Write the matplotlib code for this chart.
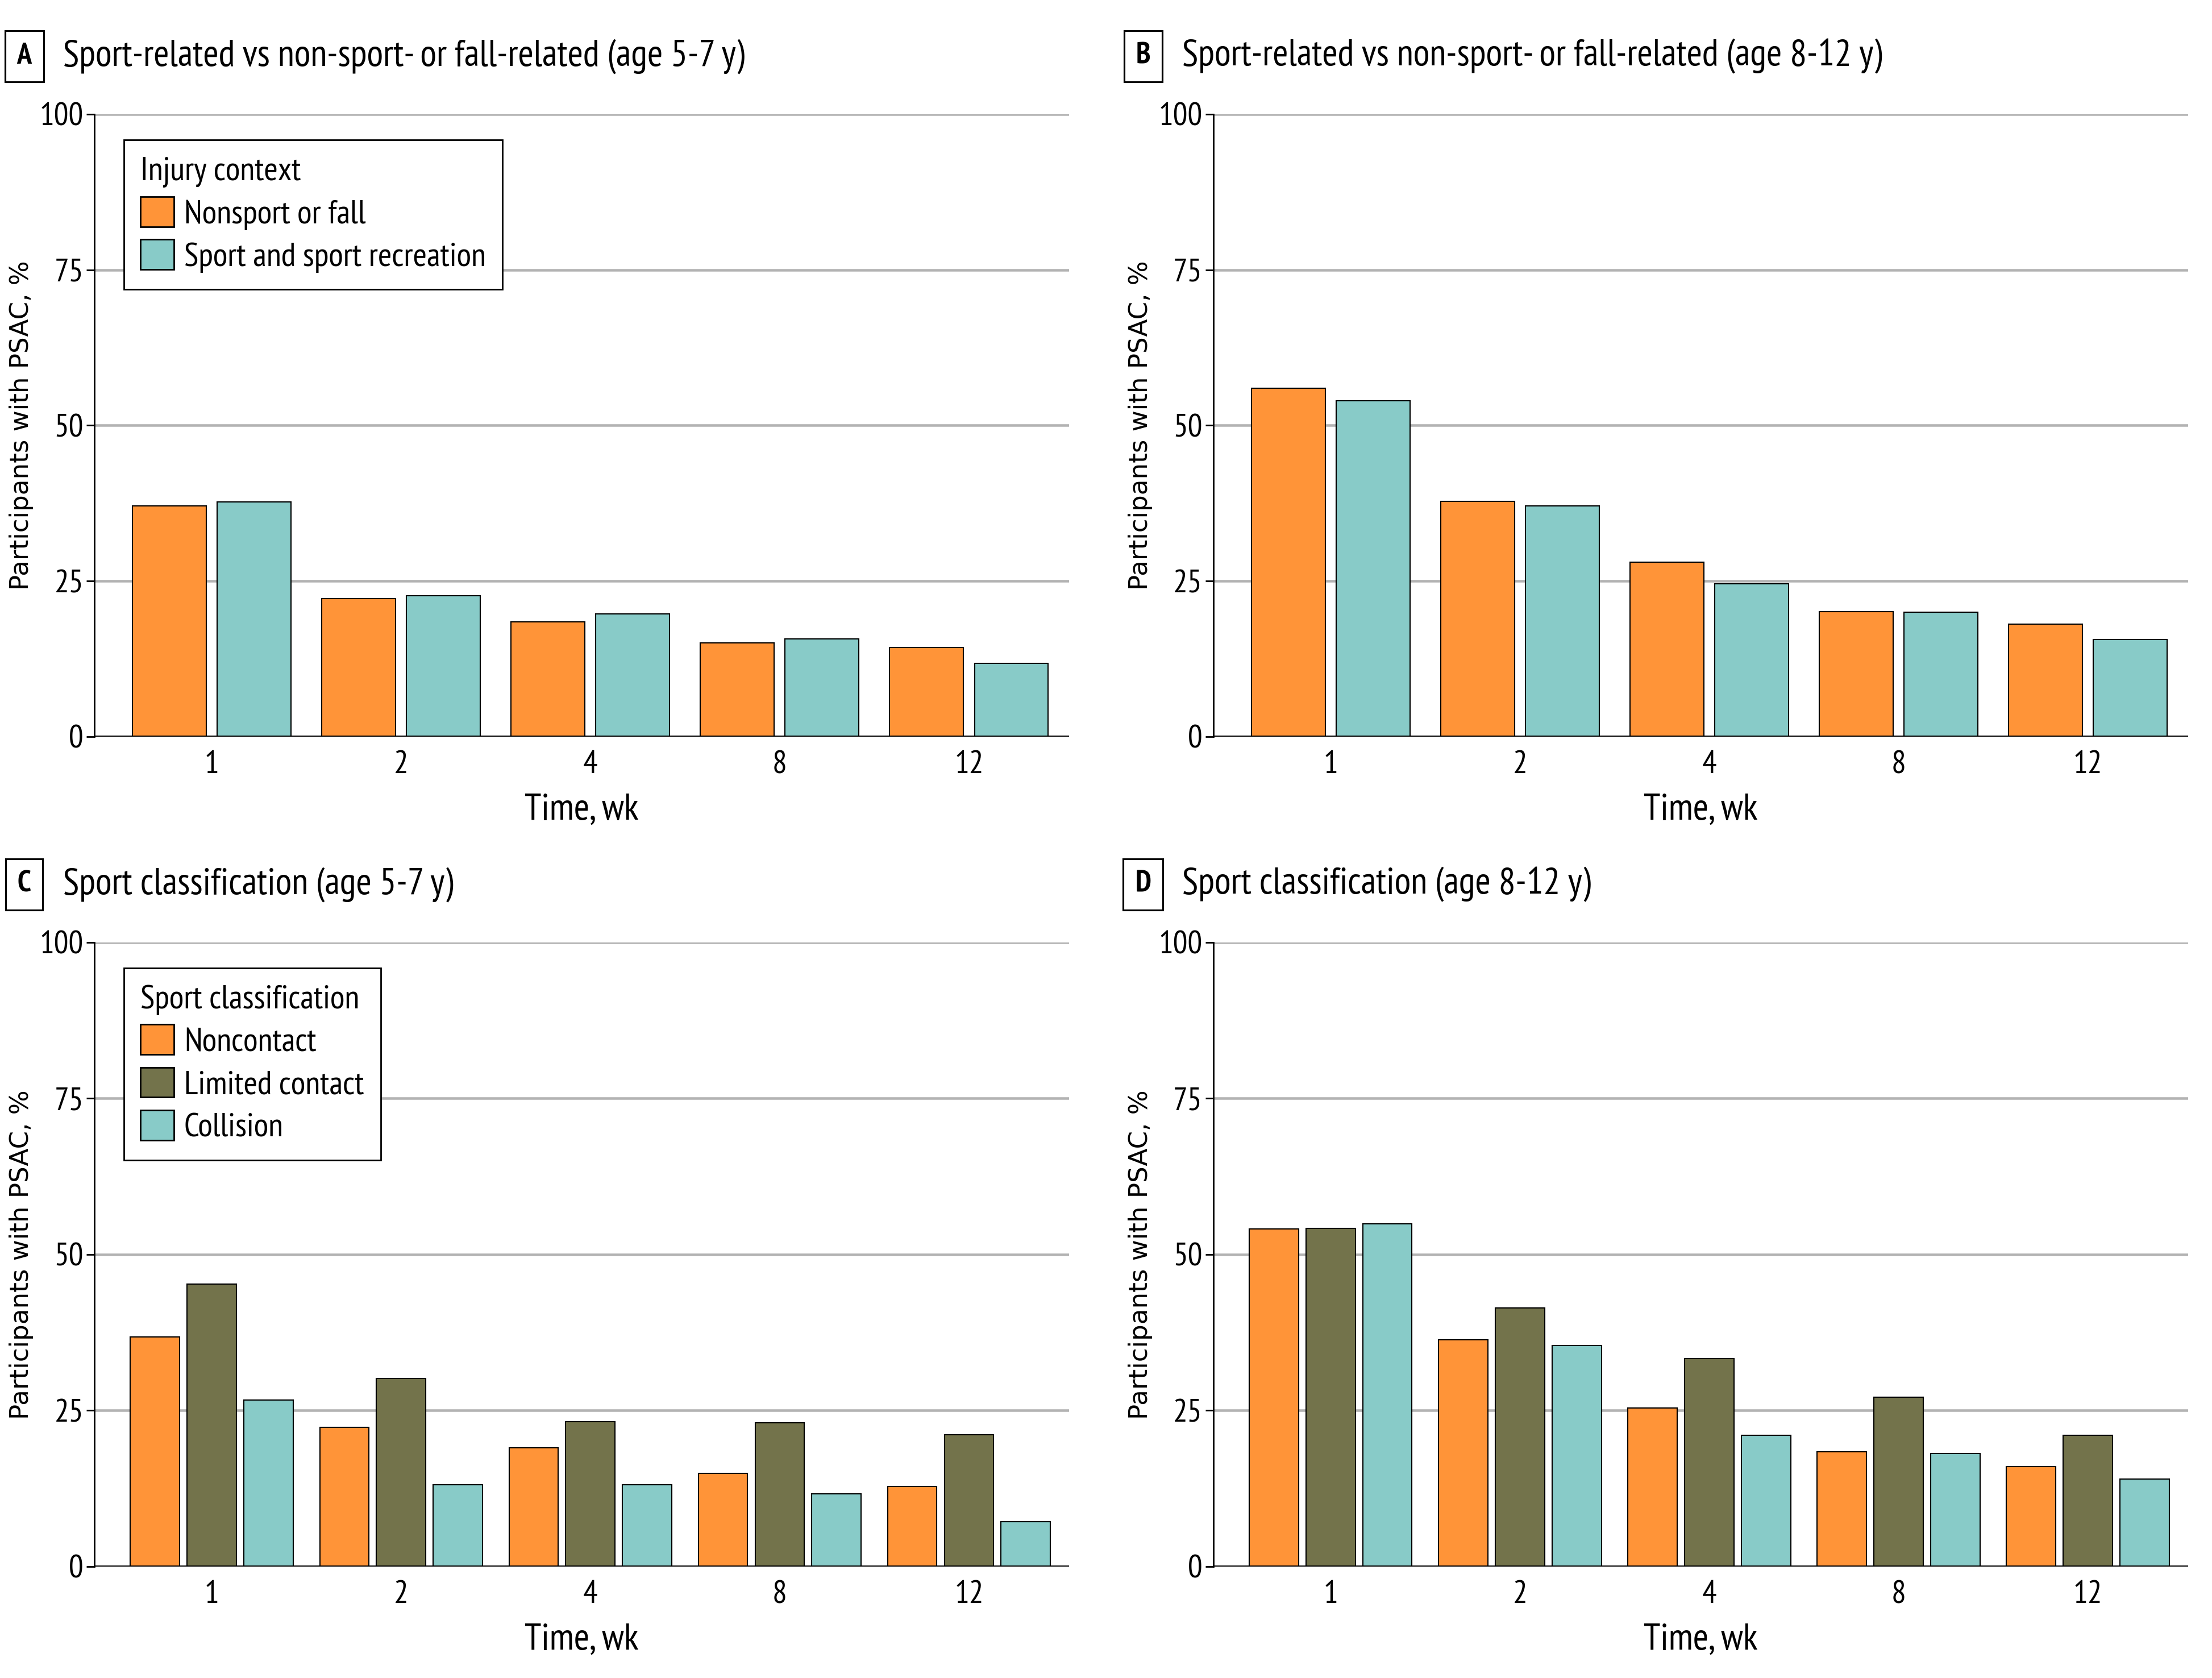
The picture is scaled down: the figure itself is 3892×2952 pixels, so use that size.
import numpy as np
import matplotlib.pyplot as plt
from matplotlib.patches import Patch

weeks = ['1', '2', '4', '8', '12']

# panel A / B: injury context
ctx_labels = ['Nonsport or fall', 'Sport and sport recreation']
a_nonsport = [37.1, 22.2, 18.4, 15.1, 14.3]
a_sport = [37.7, 22.6, 19.7, 15.7, 11.8]
b_nonsport = [56.0, 37.8, 28.0, 20.1, 18.1]
b_sport = [54.0, 37.1, 24.6, 20.0, 15.6]

# panel C / D: sport classification
cls_labels = ['Noncontact', 'Limited contact', 'Collision']
c_noncontact = [36.8, 22.3, 19.0, 14.9, 12.8]
c_limited = [45.3, 30.1, 23.2, 23.0, 21.1]
c_collision = [26.7, 13.1, 13.1, 11.7, 7.2]
d_noncontact = [54.1, 36.3, 25.4, 18.4, 16.0]
d_limited = [54.2, 41.4, 33.3, 27.1, 21.0]
d_collision = [54.9, 35.4, 21.0, 18.1, 14.0]

orange = '#FF9438'
olive = '#73734B'
teal = '#88CBC8'
grid_c = '#B3B3B3'

plt.rcParams['font.family'] = ['PT Sans Narrow', 'DejaVu Sans']
plt.rcParams['font.size'] = 16

fig = plt.figure(figsize=(15.568, 11.808), dpi=250)

W = 0.4407
boxes = {
    'A': [0.0427, 0.561, W, 0.371],
    'B': [0.5485, 0.561, W, 0.371],
    'C': [0.0427, 0.0664, W, 0.372],
    'D': [0.5485, 0.0664, W, 0.372],
}
titles = {
    'A': 'Sport-related vs non-sport- or fall-related (age 5-7 y)',
    'B': 'Sport-related vs non-sport- or fall-related (age 8-12 y)',
    'C': 'Sport classification (age 5-7 y)',
    'D': 'Sport classification (age 8-12 y)',
}
series = {
    'A': [a_nonsport, a_sport],
    'B': [b_nonsport, b_sport],
    'C': [c_noncontact, c_limited, c_collision],
    'D': [d_noncontact, d_limited, d_collision],
}

x = np.arange(len(weeks))

for key, rect in boxes.items():
    ax = fig.add_axes(rect)
    data = series[key]
    if len(data) == 2:
        cols = [orange, teal]
        offs = [-0.224, 0.224]
        bw = 0.39
        labels = ctx_labels
        ltitle = 'Injury context'
    else:
        cols = [orange, olive, teal]
        offs = [-0.30, 0.0, 0.30]
        bw = 0.26
        labels = cls_labels
        ltitle = 'Sport classification'

    for vals, c, o in zip(data, cols, offs):
        ax.bar(x + o, vals, width=bw, color=c, edgecolor='black', linewidth=0.6, zorder=3)

    ax.set_ylim(0, 100)
    ax.set_xlim(-0.62, 4.53)
    ax.set_yticks([0, 25, 50, 75, 100])
    ax.set_xticks(x)
    ax.set_xticklabels(weeks)
    ax.tick_params(axis='x', length=0, pad=7, labelsize=16.5)
    ax.tick_params(axis='y', length=4, width=0.8, pad=1.5, labelsize=16.5)
    for v in [25, 50, 75, 100]:
        ax.axhline(v, color=grid_c, linewidth=1.3, zorder=1)
    ax.axhline(0, color='black', linewidth=1.4, zorder=4)
    for s in ['top', 'right', 'bottom']:
        ax.spines[s].set_visible(False)
    ax.spines['left'].set_linewidth(0.8)
    ax.set_xlabel('Time, wk', fontsize=19, labelpad=7)
    ax.set_ylabel('Participants with PSAC, %', fontsize=13, family='DejaVu Sans', labelpad=3)

    ax.text(-0.072, 1.093, key, transform=ax.transAxes, ha='center', va='center',
            fontsize=15, fontweight='bold',
            bbox=dict(boxstyle='square,pad=0.4', facecolor='white', edgecolor='black', linewidth=0.9))
    ax.text(-0.032, 1.093, titles[key], transform=ax.transAxes, ha='left', va='center', fontsize=19)

    if key in ('A', 'C'):
        handles = [Patch(facecolor=c, edgecolor='black', linewidth=0.8) for c in cols]
        leg = ax.legend(handles, labels, title=ltitle, loc='upper left',
                        bbox_to_anchor=(0.03, 0.959), borderaxespad=0, fancybox=False, framealpha=1,
                        edgecolor='black', fontsize=17, title_fontsize=17,
                        handlelength=1.0, handleheight=1.0, handletextpad=0.3,
                        labelspacing=0.28, borderpad=0.5, alignment='left')
        leg.get_frame().set_linewidth(0.8)
        leg.set_zorder(5)

fig.savefig('out.png', dpi=250)
